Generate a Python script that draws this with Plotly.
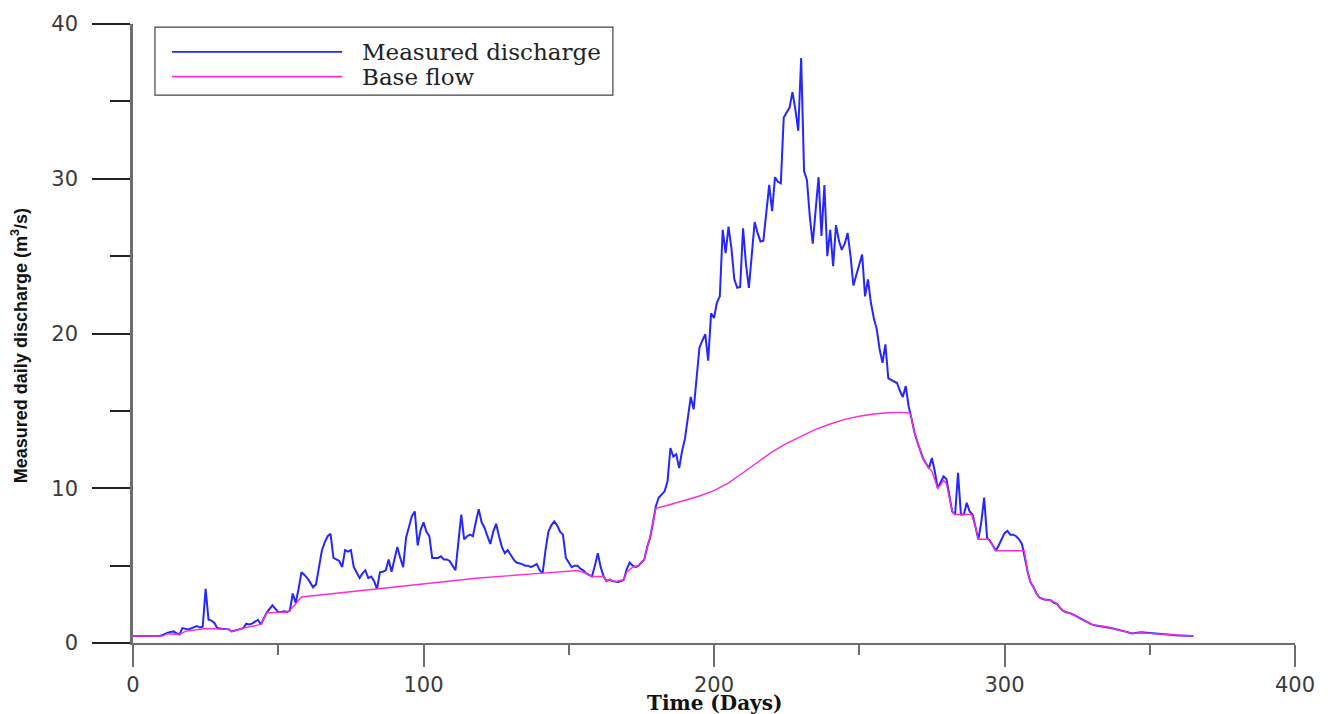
import plotly.graph_objects as go

# ---------------- data ----------------
measured = [
    0.45, 0.45, 0.45, 0.45, 0.45, 0.45, 0.45, 0.44, 0.44, 0.45,   # 0-9
    0.5, 0.6, 0.66, 0.72, 0.75, 0.62, 0.55, 0.96, 0.9, 0.87,      # 10-19
    0.95, 1.05, 1.1, 1.0, 1.05, 3.5, 1.5, 1.45, 1.3, 0.97,        # 20-29
    0.92, 0.9, 0.9, 0.88, 0.75, 0.8, 0.85, 0.9, 0.96, 1.25,       # 30-39
    1.2, 1.25, 1.35, 1.5, 1.2, 1.6, 1.95, 2.2, 2.43, 2.2,         # 40-49
    2.0, 2.0, 2.05, 2.0, 2.1, 3.2, 2.6, 3.5, 4.57, 4.4,           # 50-59
    4.2, 3.9, 3.6, 3.8, 4.8, 5.96, 6.5, 6.9, 7.05, 5.5,           # 60-69
    5.4, 5.3, 4.9, 6.0, 5.9, 6.0, 4.9, 4.5, 4.2, 4.5,             # 70-79
    4.7, 4.2, 4.3, 4.0, 3.5, 4.57, 4.6, 4.7, 5.4, 4.6,            # 80-89
    5.5, 6.2, 5.5, 4.9, 6.8, 7.45, 8.2, 8.5, 6.3, 7.3,            # 90-99
    7.8, 7.2, 6.9, 5.5, 5.5, 5.5, 5.6, 5.4, 5.4, 5.3,             # 100-109
    5.0, 4.7, 6.5, 8.3, 6.7, 6.9, 7.0, 6.9, 7.8, 8.65,            # 110-119
    7.8, 7.45, 6.9, 6.4, 7.2, 7.7, 6.9, 6.2, 5.8, 6.0,            # 120-129
    5.7, 5.4, 5.2, 5.15, 5.1, 5.0, 5.0, 4.9, 5.0, 5.1,            # 130-139
    4.7, 4.5, 6.0, 7.2, 7.6, 7.85, 7.6, 7.2, 7.0, 5.5,            # 140-149
    5.2, 4.9, 5.0, 5.0, 4.8, 4.7, 4.5, 4.4, 4.3, 5.0,             # 150-159
    5.8, 4.9, 4.3, 4.0, 4.1, 4.0, 3.95, 3.95, 4.0, 4.1,           # 160-169
    4.8, 5.2, 5.0, 4.9, 5.0, 5.2, 5.4, 6.2, 6.8, 7.8,             # 170-179
    8.85, 9.4, 9.6, 9.8, 10.45, 12.6, 12.05, 12.2, 11.3, 12.4,    # 180-189
    13.2, 14.5, 15.9, 15.1, 16.9, 19.1, 19.55, 19.95, 18.25, 21.3,  # 190-199
    21.0, 22.0, 22.4, 26.7, 25.2, 26.9, 25.5, 23.5, 22.95, 23.0,  # 200-209
    26.8, 24.5, 22.95, 25.0, 27.2, 26.5, 25.95, 26.0, 28.0, 29.6,  # 210-219
    27.9, 30.1, 29.8, 29.7, 33.95, 34.3, 34.6, 35.6, 34.5, 33.1,  # 220-229
    37.8, 30.5, 29.9, 27.5, 25.8, 28.0, 30.1, 26.3, 29.6, 25.0,   # 230-239
    26.7, 24.35, 27.0, 26.0, 25.4, 25.8, 26.5, 25.0, 23.1, 23.8,  # 240-249
    24.5, 25.1, 22.4, 23.5, 22.0, 21.0, 20.3, 19.0, 18.1, 19.3,   # 250-259
    17.1, 17.0, 16.9, 16.8, 16.3, 15.9, 16.6, 15.3, 14.5, 13.6,   # 260-269
    13.0, 12.4, 11.9, 11.6, 11.3, 11.95, 11.1, 10.0, 10.4, 10.77,  # 270-279
    10.6, 9.4, 8.5, 8.3, 11.0, 8.3, 8.3, 9.06, 8.5, 8.3,          # 280-289
    7.5, 6.7, 7.8, 9.4, 6.8, 6.6, 6.3, 5.96, 6.3, 6.7,            # 290-299
    7.1, 7.24, 7.0, 7.0, 6.9, 6.7, 6.4, 5.5, 4.57, 3.9,           # 300-309
    3.6, 3.2, 2.95, 2.86, 2.8, 2.8, 2.75, 2.6, 2.54, 2.3,         # 310-319
    2.1, 2.0, 1.95, 1.9, 1.8, 1.7, 1.58, 1.5, 1.4, 1.3,           # 320-329
    1.2, 1.15, 1.12, 1.1, 1.08, 1.05, 1.0, 0.95, 0.9, 0.86,       # 330-339
    0.83, 0.78, 0.72, 0.66, 0.62, 0.65, 0.68, 0.7, 0.68, 0.66,    # 340-349
    0.64, 0.63, 0.62, 0.6, 0.58, 0.56, 0.54, 0.52, 0.51, 0.5,     # 350-359
    0.49, 0.48, 0.47, 0.46, 0.45, 0.45,                           # 360-365
]
days = list(range(len(measured)))

base_days = [
    0, 10, 12, 16, 18, 25, 30, 33, 34, 38,
    44, 46, 53, 54, 58, 84, 100, 119, 140, 153,
    156, 158, 162, 163, 164, 166, 169, 170, 172, 174,
    175, 176, 177, 178, 179, 180, 185, 190, 195, 200,
    205, 210, 215, 220, 225, 230, 235, 240, 245, 250,
    255, 260, 265, 267.5, 268, 269, 270, 271, 272, 273,
    274, 275, 276, 277, 278, 279, 280, 281, 282, 283,
    288.7, 290, 291, 294.4, 296, 297, 306.8, 308, 309, 310,
    311, 312, 313, 314, 316, 318, 320, 322, 324, 326,
    328, 330, 332, 335, 338, 340, 342, 344, 347, 350,
    352, 355, 358, 361, 365,
]
base_flow = [
    0.45, 0.45, 0.6, 0.55, 0.75, 0.94, 0.9, 0.88, 0.75, 0.96,
    1.2, 1.95, 2.0, 2.1, 2.97, 3.5, 3.85, 4.2, 4.5, 4.68,
    4.5, 4.3, 4.3, 4.0, 4.1, 3.95, 4.1, 4.6, 4.9, 5.0,
    5.2, 5.4, 6.2, 6.8, 7.8, 8.7, 8.95, 9.2, 9.5, 9.85,
    10.35, 11.0, 11.7, 12.35, 12.9, 13.35, 13.8, 14.15, 14.45, 14.65,
    14.8, 14.88, 14.9, 14.85, 14.5, 13.6, 13.0, 12.4, 11.9, 11.6,
    11.3, 11.1, 10.6, 10.0, 10.2, 10.5, 10.3, 9.4, 8.5, 8.3,
    8.3, 7.5, 6.7, 6.7, 6.3, 5.96, 5.96, 4.57, 3.9, 3.6,
    3.2, 2.95, 2.86, 2.8, 2.75, 2.54, 2.1, 1.95, 1.8, 1.58,
    1.4, 1.2, 1.12, 1.05, 0.9, 0.83, 0.72, 0.62, 0.66, 0.62,
    0.6, 0.56, 0.51, 0.48, 0.45,
]

series_names = ["Measured discharge", "Base flow"]
x_ticks = [0, 100, 200, 300, 400]
y_ticks = [0, 10, 20, 30, 40]

BLUE = "#2626ff"
PINK = "#ff2ad8"
AXIS = "#6e6e6e"

fig = go.Figure()
fig.add_trace(go.Scatter(x=days, y=measured, mode="lines", name=series_names[0],
                         line=dict(color=BLUE, width=2), showlegend=False))
fig.add_trace(go.Scatter(x=base_days, y=base_flow, mode="lines", name=series_names[1],
                         line=dict(color=PINK, width=1.4), showlegend=False))

tick_font = dict(family="DejaVu Sans, Verdana, sans-serif", size=21, color="#3a3a3a")

fig.update_layout(
    width=1331, height=714,
    margin=dict(l=133, r=36, t=19, b=71),
    paper_bgcolor="white", plot_bgcolor="white",
    xaxis=dict(range=[0, 400], tickvals=x_ticks, ticktext=[str(v) for v in x_ticks],
               showgrid=False, zeroline=False, showline=True, linecolor=AXIS, linewidth=2,
               ticks="outside", ticklen=22, tickwidth=2, tickcolor=AXIS,
               ticklabelstandoff=0,
               minor=dict(dtick=50, tick0=0, ticks="outside", ticklen=10, tickwidth=2,
                          tickcolor=AXIS, showgrid=False),
               tickfont=tick_font, fixedrange=True),
    yaxis=dict(range=[0, 40], tickvals=y_ticks, ticktext=[str(v) for v in y_ticks],
               showgrid=False, zeroline=False, showline=True, linecolor=AXIS, linewidth=2.5,
               ticks="outside", ticklen=38, tickwidth=1.5, tickcolor="#222",
               ticklabelstandoff=10,
               minor=dict(dtick=5, tick0=0, ticks="outside", ticklen=20, tickwidth=1.5,
                          tickcolor="#222", showgrid=False),
               tickfont=tick_font, fixedrange=True),
)

# axis titles
fig.add_annotation(text="Time (Days)", xref="paper", yref="paper", x=0.5, y=-0.0965,
                   xanchor="center", yanchor="middle", showarrow=False,
                   font=dict(family="DejaVu Serif, Liberation Serif, serif", size=20,
                             color="#111", weight="bold"))
fig.add_annotation(text="Measured daily discharge (m<sup>3</sup>/s)", xref="paper", yref="paper",
                   x=-0.097, y=0.48, xanchor="center", yanchor="middle", textangle=-90,
                   showarrow=False,
                   font=dict(family="Liberation Sans, Arial, sans-serif",
                             size=18, color="#111", weight="bold"))

# custom legend (box, sample lines, labels)
fig.add_shape(type="rect", xref="paper", yref="paper", x0=0.0189, x1=0.413, y0=0.885, y1=0.995,
              line=dict(color="#444", width=1.2), fillcolor="white", layer="above")
legend_colors = [BLUE, PINK]
legend_y = [0.955, 0.915]
for name, col, ly in zip(series_names, legend_colors, legend_y):
    fig.add_shape(type="line", xref="paper", yref="paper", x0=0.0336, x1=0.18, y0=ly, y1=ly,
                  line=dict(color=col, width=1.6), layer="above")
    fig.add_annotation(text=name, xref="paper", yref="paper", x=0.1954, y=ly,
                       xanchor="left", yanchor="middle", showarrow=False,
                       font=dict(family="DejaVu Serif, Liberation Serif, serif", size=23, color="#222"))

# remove the browser's default 8px body margin so the figure fills the window exactly
fig.write_html("out.html", config={"displayModeBar": False},
               post_script="document.body.style.margin='0px';")
